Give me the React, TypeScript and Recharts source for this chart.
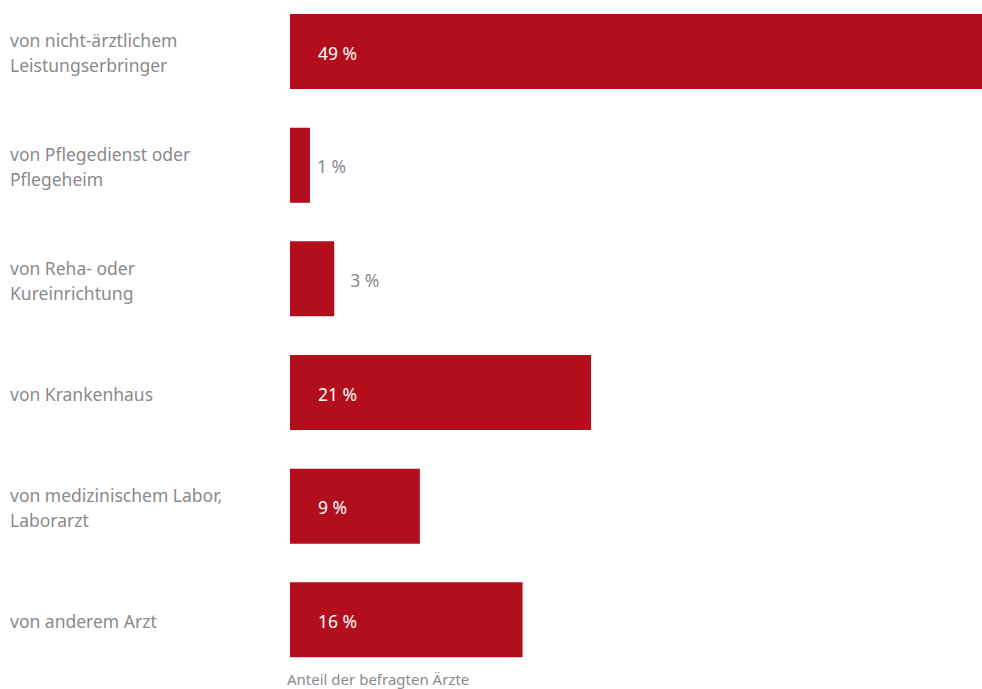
import { Bar, BarChart, LabelList, XAxis, YAxis } from "recharts";

// categories as printed (line breaks as in the source)
const categories = [
  ["von nicht-ärztlichem", "Leistungserbringer"],
  ["von Pflegedienst oder", "Pflegeheim"],
  ["von Reha- oder", "Kureinrichtung"],
  ["von Krankenhaus"],
  ["von medizinischem Labor,", "Laborarzt"],
  ["von anderem Arzt"],
];
// bar lengths, labels as printed
const shares = [48.5, 1.4, 3.1, 21.1, 9.1, 16.3];
const shareLabels = ["49 %", "1 %", "3 %", "21 %", "9 %", "16 %"];
const axisTitle = "Anteil der befragten Ärzte";

const RED = "#b30e1c";
const GREY = "#8a8a8d";
const FONT = "'Noto Sans', sans-serif";

const data = categories.map((c, i) => ({
  name: c.join(" "),
  share: shares[i],
  label: shareLabels[i],
}));

function CategoryTick({ y, payload }: any) {
  const lines = categories[payload.index] ?? [payload.value];
  const lh = 25;
  const y0 = y - ((lines.length - 1) * lh) / 2 + 1;
  return (
    <text x={10} y={y0} fill={GREY} fontSize={17.5} fontFamily={FONT} dominantBaseline="central">
      {lines.map((l: string, i: number) => (
        <tspan key={i} x={10} y={y0 + i * lh} dominantBaseline="central">
          {l}
        </tspan>
      ))}
    </text>
  );
}

function ValueLabel({ x, y, width, height, value }: any) {
  const inside = width > 60;
  const tx = inside ? x + 28 : x + width + (width < 30 ? 7 : 16);
  return (
    <text
      x={tx}
      y={y + height / 2 + 1}
      fill={inside ? "#ffffff" : GREY}
      fontSize={17.5}
      fontFamily={FONT}
      dominantBaseline="central"
    >
      {value}
    </text>
  );
}

function AxisTitle({ viewBox }: any) {
  return (
    <text x={viewBox.x - 3} y={679} fill={GREY} fontSize={15} fontFamily={FONT} dominantBaseline="central">
      {axisTitle}
    </text>
  );
}

export default function App() {
  return (
    <div style={{ position: "absolute", left: 0, top: 0, background: "#fff" }}>
      <BarChart
        width={982}
        height={689}
        data={data}
        layout="vertical"
        margin={{ top: -5, right: 0, bottom: 0, left: 0 }}
        barSize={75}
      >
        <XAxis
          type="number"
          domain={[0, 48.5]}
          tick={false}
          axisLine={false}
          tickLine={false}
          height={12}
          label={<AxisTitle />}
        />
        <YAxis
          type="category"
          dataKey="name"
          width={290}
          axisLine={false}
          tickLine={false}
          tick={<CategoryTick />}
          interval={0}
        />
        <Bar dataKey="share" fill={RED} isAnimationActive={false}>
          <LabelList dataKey="label" content={<ValueLabel />} />
        </Bar>
      </BarChart>
    </div>
  );
}
